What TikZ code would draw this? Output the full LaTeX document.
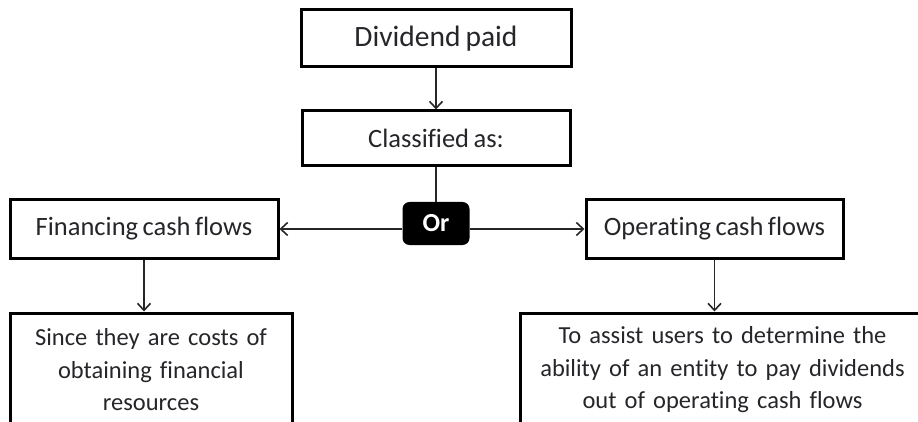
\documentclass[tikz,border=0pt]{standalone}
\usepackage{fontspec}
\setmainfont{Carlito}[Ligatures={NoCommon,NoRare},Contextuals=NoAlternate,WordSpace=0.75]
\usetikzlibrary{arrows.meta}
\definecolor{inkgray}{RGB}{38,38,42}
\begin{document}
\begin{tikzpicture}[x=1pt,y=-1pt,
  box/.style={draw=black,line width=3pt,fill=white,inner sep=0pt,align=center,
    text=inkgray,font=\fontsize{26.5}{32.5}\selectfont},
  notebox/.style={box,font=\fontsize{24.5}{32.5}\selectfont},
  link/.style={line width=1.6pt,draw=black!85},
  arr/.style={link,-{Straight Barb[length=7pt,width=13pt,line width=1.6pt]}},
  choice/.style={fill=black,rounded corners=7pt,text=white,inner sep=0pt,
    font=\fontsize{26}{30}\selectfont\bfseries}]
  \clip (0,0) rectangle (918,422);
  \fill[white] (0,0) rectangle (918,422);

  \node[box,minimum width=270pt,minimum height=57pt,font=\fontsize{29.5}{34}\selectfont]
    (div) at (436,38.5) {Dividend paid};
  \node[box,minimum width=268pt,minimum height=55pt] (cls) at (436,138.5) {Classified as:};
  \node[choice,minimum width=67pt,minimum height=43pt] (or) at (436,223.5) {Or};
  \node[box,minimum width=268pt,minimum height=58pt] (fin) at (144,229) {Financing cash flows};
  \node[notebox,minimum width=282pt,minimum height=114pt,text width=276pt] (since) at (151,370)
    {Since they are costs of\\obtaining financial\\resources};
  \node[box,minimum width=257pt,minimum height=58pt] (op) at (714.5,229) {Operating cash flows};
  \node[notebox,minimum width=405pt,minimum height=114pt,text width=398pt] (assist) at (722.5,370)
    {To assist users to determine the\\ability of an entity to pay dividends\\out of operating cash flows};

  \draw[arr] (div.south) -- (cls.north);
  \draw[link] (cls.south) -- (or.north);
  \draw[arr] (or.west |- fin.east) -- (fin.east);
  \draw[arr] (or.east |- op.west) -- (op.west);
  \draw[arr] (fin.south) -- (fin.south |- since.north);
  \draw[arr] (op.south) -- (op.south |- assist.north);
\end{tikzpicture}
\end{document}
